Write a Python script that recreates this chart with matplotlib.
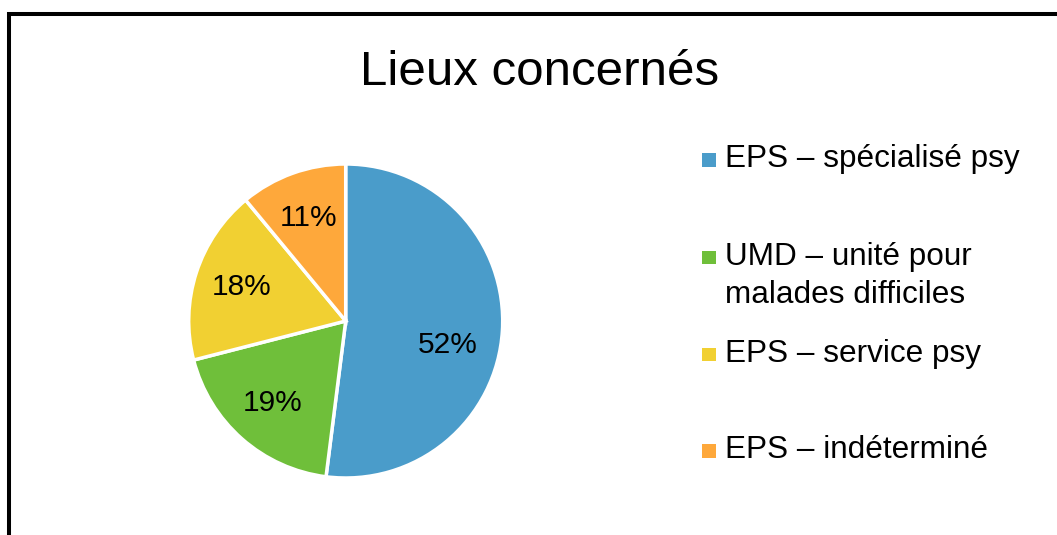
import matplotlib
matplotlib.use("Agg")
import matplotlib.pyplot as plt
import numpy as np
from matplotlib.lines import Line2D
from matplotlib.patches import Rectangle

# data
labels = ["EPS – spécialisé psy", "UMD – unité pour\nmalades difficiles",
          "EPS – service psy", "EPS – indéterminé"]
shares = [52, 19, 18, 11]
colors = ["#4A9CCA", "#6FBF3A", "#F1D032", "#FEA83B"]

W, H = 1057, 535
plt.rcParams["font.family"] = ["Liberation Sans", "DejaVu Sans"]

fig = plt.figure(figsize=(W / 100, H / 100), dpi=100)
fig.patch.set_facecolor("white")


def fx(px):
    return px / W


def fy(py):
    return 1 - py / H


# slide frame, cut at right and bottom
fig.add_artist(Line2D([fx(7), 1.0], [fy(13.5), fy(13.5)], color="black",
                      lw=2.9, solid_capstyle="butt"))
fig.add_artist(Line2D([fx(9), fx(9)], [fy(12), 0.0], color="black",
                      lw=2.9, solid_capstyle="butt"))

fig.text(fx(540), fy(85), "Lieux concernés", fontsize=35.5, ha="center", va="baseline")

# pie
cx, cy, r = 345.7, 321, 157
ax = fig.add_axes([fx(cx - r), fy(cy + r), fx(2 * r), (2 * r) / H])
wedges, texts, autotexts = ax.pie(
    shares, colors=colors, startangle=90, counterclock=False,
    autopct=lambda p: f"{p:.0f}%", pctdistance=0.7,
    wedgeprops=dict(edgecolor="white", linewidth=2.5),
    textprops=dict(fontsize=21.5, color="black"),
)
# the big slice label sits a bit lower than its mid-angle on the slide
ang = np.deg2rad(-13)
autotexts[0].set_position((0.67 * np.cos(ang), 0.67 * np.sin(ang)))
ax.set_xlim(-1, 1)
ax.set_ylim(-1, 1)
ax.set_aspect("equal")
ax.axis("off")

# legend drawn by hand to keep the uneven spacing of the slide
baselines = [167.3, 265, 361.7, 458.3]
for lab, col, base in zip(labels, colors, baselines):
    fig.add_artist(Rectangle((fx(702.3), fy(base - 0.6)), fx(13.3), 13.3 / H,
                             facecolor=col, edgecolor="none"))
    first, *rest = lab.split("\n")
    fig.text(fx(725), fy(base), first, fontsize=22.7, va="baseline")
    for i, line in enumerate(rest, start=1):
        fig.text(fx(725), fy(base + 38.3 * i), line, fontsize=22.7, va="baseline")

fig.savefig("out.png", dpi=100)
